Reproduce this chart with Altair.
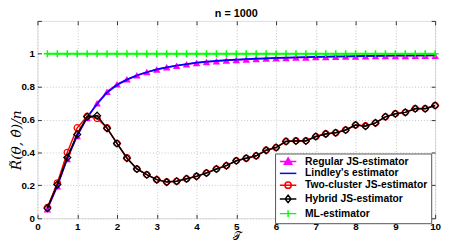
import altair as alt
import pandas as pd

tau = [0.25, 0.5, 0.75, 1.0, 1.25, 1.5, 1.75, 2.0, 2.25, 2.5,
       2.75, 3.0, 3.25, 3.5, 3.75, 4.0, 4.25, 4.5, 4.75, 5.0,
       5.25, 5.5, 5.75, 6.0, 6.25, 6.5, 6.75, 7.0, 7.25, 7.5,
       7.75, 8.0, 8.25, 8.5, 8.75, 9.0, 9.25, 9.5, 9.75, 10.0]

regular = [0.055, 0.195, 0.36, 0.50, 0.61, 0.70, 0.77, 0.815, 0.845, 0.87,
           0.89, 0.905, 0.918, 0.928, 0.937, 0.944, 0.95, 0.955, 0.959, 0.963,
           0.966, 0.969, 0.971, 0.973, 0.975, 0.977, 0.978, 0.98, 0.981, 0.982,
           0.983, 0.984, 0.985, 0.986, 0.986, 0.987, 0.987, 0.988, 0.988, 0.988]

lindley = [0.06, 0.20, 0.365, 0.505, 0.615, 0.695, 0.765, 0.81, 0.843, 0.868,
           0.888, 0.905, 0.918, 0.929, 0.938, 0.946, 0.952, 0.957, 0.961, 0.965,
           0.968, 0.971, 0.973, 0.975, 0.977, 0.979, 0.98, 0.982, 0.983, 0.984,
           0.985, 0.986, 0.987, 0.988, 0.989, 0.99, 0.99, 0.991, 0.991, 0.992]

two_cluster = [0.065, 0.215, 0.40, 0.55, 0.62, 0.607, 0.55, 0.455, 0.368, 0.30,
               0.265, 0.235, 0.222, 0.225, 0.24, 0.256, 0.276, 0.30, 0.32, 0.35,
               0.365, 0.38, 0.415, 0.43, 0.468, 0.472, 0.472, 0.497, 0.514, 0.52,
               0.537, 0.567, 0.562, 0.58, 0.617, 0.636, 0.644, 0.667, 0.667, 0.686]

hybrid = [0.062, 0.205, 0.37, 0.51, 0.617, 0.624, 0.547, 0.455, 0.365, 0.30,
          0.265, 0.235, 0.22, 0.225, 0.24, 0.255, 0.275, 0.30, 0.32, 0.35,
          0.365, 0.38, 0.413, 0.43, 0.467, 0.47, 0.47, 0.497, 0.513, 0.52,
          0.537, 0.567, 0.56, 0.58, 0.617, 0.636, 0.644, 0.666, 0.666, 0.686]

ml = [1.0, 1.0, 1.0, 1.0, 1.0, 1.0, 1.0, 1.0, 1.0, 1.0,
      1.0, 1.0, 1.0, 1.0, 1.0, 1.0, 1.0, 1.0, 1.0, 1.0,
      1.0, 1.0, 1.0, 1.0, 1.0, 1.0, 1.0, 1.0, 1.0, 1.0,
      1.0, 1.0, 1.0, 1.0, 1.0, 1.0, 1.0, 1.0, 1.0, 1.0]

series_names = ["Regular JS-estimator", "Lindley's estimator",
                "Two-cluster JS-estimator", "Hybrid JS-estimator", "ML-estimator"]
series_colors = ["#ff00ff", "#0000ff", "#ff0000", "#000000", "#00ff00"]
legend_fills = ["#ff00ff", "transparent", "transparent", "transparent", "transparent"]
legend_paths = [
    "M-2.1,0H2.1M0,-0.95L0.95,0.7H-0.95Z",
    "M-2.1,0H2.1",
    "M-2.1,0H2.1M0.8,0A0.8,0.8 0 1,1 -0.8,0A0.8,0.8 0 1,1 0.8,0",
    "M-2.1,0H2.1M0,-0.95L0.75,0L0,0.95L-0.75,0Z",
    "M-2.1,0H2.1M0,-0.85V0.85",
]
x_ticks = [0, 1, 2, 3, 4, 5, 6, 7, 8, 9, 10]
y_ticks = [0, 0.2, 0.4, 0.6, 0.8, 1.0]
y_ticks_all = [0, 0.2, 0.4, 0.6, 0.8, 1.0, 1.2]

rows = []
for name, vals in zip(series_names, [regular, lindley, two_cluster, hybrid, ml]):
    for t, v in zip(tau, vals):
        rows.append({"tau": t, "value": v, "series": name})
df = pd.DataFrame(rows)

W, H = 405, 201
FONT = "Liberation Sans"

xs = alt.Scale(domain=[0, 10], nice=False, zero=False)
ys = alt.Scale(domain=[0, 1.2], nice=False, zero=False)

x_main = alt.Axis(values=x_ticks, format="d", labelFont=FONT, labelFontSize=10,
                  labelFontWeight="bold", labelColor="black", ticks=False, domain=False,
                  grid=True, gridColor="#c4c4c4", gridDash=[1, 2], gridWidth=1,
                  labelPadding=3, labelFlush=False, labelOverlap=False,
                  title="𝒯", titleFont="DejaVu Serif", titleFontSize=11,
                  titleFontWeight="normal", titleColor="black", titleY=21.5,
                  titleBaseline="alphabetic")
y_main = alt.Axis(values=y_ticks, format="~g", labelFont=FONT, labelFontSize=10,
                  labelFontWeight="bold", labelColor="black", ticks=False, domain=False,
                  grid=True, gridColor="#c4c4c4", gridDash=[1, 2], gridWidth=1,
                  labelPadding=3, labelFlush=False, labelOverlap=False,
                  title="R̃(θ, θ̂)/n", titleFont="DejaVu Serif",
                  titleFontStyle="italic", titleFontSize=14, titleFontWeight="normal",
                  titleColor="black", titleX=-14, titleY=121)

def tick_axis(orient, offset, values):
    return alt.Axis(orient=orient, offset=offset, values=values, labels=False,
                    domain=False, grid=False, ticks=True, tickSize=4,
                    tickColor="#333", tickWidth=1, title=None)

x_in_a = tick_axis("top", -H, x_ticks)
x_in_b = tick_axis("bottom", -H, x_ticks)
y_in_a = tick_axis("right", -W, y_ticks_all)
y_in_b = tick_axis("left", -W, y_ticks_all)


def enc(chart, xa=None, ya=None):
    return chart.encode(
        x=alt.X("tau:Q", scale=xs, axis=xa),
        y=alt.Y("value:Q", scale=ys, axis=ya),
    )


def sub(name):
    return alt.Chart(df).transform_filter(alt.datum.series == name)


layers = []
# Regular JS
layers.append(enc(sub(series_names[0]).mark_line(color=series_colors[0], strokeWidth=1.5),
                  x_main, y_main))
layers.append(enc(sub(series_names[0]).mark_point(shape="triangle-up", filled=True,
                                                  color=series_colors[0], size=58, opacity=1),
                  x_in_a, y_in_a))
# Lindley
layers.append(enc(sub(series_names[1]).mark_line(color=series_colors[1], strokeWidth=1.8),
                  x_in_b, y_in_b))
# Two-cluster
layers.append(enc(sub(series_names[2]).mark_line(color=series_colors[2], strokeWidth=1.5)))
layers.append(enc(sub(series_names[2]).mark_point(shape="circle", filled=False,
                                                  color=series_colors[2], size=40,
                                                  strokeWidth=1.3, opacity=1)))
# Hybrid
layers.append(enc(sub(series_names[3]).mark_line(color=series_colors[3], strokeWidth=1.5)))
layers.append(enc(sub(series_names[3]).mark_point(shape="diamond", filled=False,
                                                  color=series_colors[3], size=48,
                                                  strokeWidth=1.3, opacity=1)))
# ML
layers.append(enc(sub(series_names[4]).mark_line(color=series_colors[4], strokeWidth=2)))
layers.append(enc(sub(series_names[4]).mark_point(shape="M-1,0H1M0,-1V1", filled=False,
                                                  color=series_colors[4], size=50,
                                                  strokeWidth=1.5, opacity=1)))

# legend layer (draws no marks; the legend comes from the explicit scale domains)
leg = dict(orient="none", legendX=242, legendY=135, title=None, padding=3,
           strokeColor="#555", fillColor="white", symbolSize=64,
           symbolStrokeWidth=1.5, labelFont=FONT, labelFontSize=10.5,
           labelFontWeight="bold", labelColor="black", labelOffset=12,
           symbolOffset=5, rowPadding=0, labelLimit=0)
legend_layer = alt.Chart(df).transform_filter("datum.tau < 0").mark_point(
    strokeWidth=1.5, opacity=1).encode(
    x=alt.X("tau:Q", scale=xs, axis=None),
    y=alt.Y("value:Q", scale=ys, axis=None),
    stroke=alt.Stroke("series:N", scale=alt.Scale(domain=series_names, range=series_colors),
                      legend=alt.Legend(**leg)),
    fill=alt.Fill("series:N", scale=alt.Scale(domain=series_names, range=legend_fills),
                  legend=alt.Legend(**leg)),
    shape=alt.Shape("series:N", scale=alt.Scale(domain=series_names, range=legend_paths),
                    legend=alt.Legend(**leg)),
)
layers.append(legend_layer)

chart = alt.layer(*layers).resolve_axis(x="independent", y="independent").properties(
    width=W, height=H,
    title=alt.TitleParams("n = 1000", font=FONT, fontSize=11, fontWeight="bold",
                          color="black", anchor="middle", offset=1),
    autosize=alt.AutoSizeParams(type="none"),
    padding={"left": 30, "top": 11, "right": 7, "bottom": 23},
).configure_view(stroke="#444", strokeWidth=1).configure(background="white")

chart.save("out.html", embed_options={"renderer": "svg", "actions": False})
